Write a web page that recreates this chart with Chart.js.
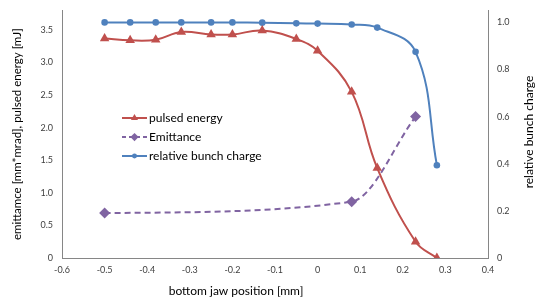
<!DOCTYPE html>
<html>
<head>
<meta charset="utf-8">
<script src="https://cdn.jsdelivr.net/npm/chart.js@4/dist/chart.umd.min.js"></script>
<style>
  body { margin: 0; background: #fff; }
  #wrap { width: 538px; height: 302px; }
</style>
</head>
<body>
<div id="wrap"><canvas id="myChart"></canvas></div>
<script>
// jaw positions [mm]
const jawPos = [-0.5, -0.44, -0.38, -0.32, -0.25, -0.2, -0.13, -0.05, 0, 0.08, 0.14, 0.23, 0.28];
const pulsedEnergy = [3.37, 3.34, 3.35, 3.47, 3.43, 3.43, 3.49, 3.36, 3.18, 2.55, 1.38, 0.25, 0];
const bunchCharge = [1.0, 1.0, 1.0, 1.0, 1.0, 1.0, 0.999, 0.996, 0.995, 0.991, 0.978, 0.875, 0.394];
const emitPos = [-0.5, 0.08, 0.23];
const emittance = [0.69, 0.865, 2.17];

const xTicks = [-0.6, -0.5, -0.4, -0.3, -0.2, -0.1, 0, 0.1, 0.2, 0.3, 0.4];
const leftTicks = [0, 0.5, 1, 1.5, 2, 2.5, 3, 3.5];
const rightTicks = [0, 0.2, 0.4, 0.6, 0.8, 1];

const pts = (xs, ys) => xs.map((x, i) => ({ x: x, y: ys[i] }));
const setTicks = list => scale => { scale.ticks = list.map(v => ({ value: v })); };

const RED = '#C0504D', PURPLE = '#8064A2', BLUE = '#4F81BD';
const AXIS = '#868686';
const FONT = 'Lato, "Open Sans", sans-serif';

// legend inside the plot + titles placed like the original
const extras = {
  id: 'extras',
  afterDraw(chart) {
    const ctx = chart.ctx;
    const rows = [118, 137, 156];
    ctx.save();
    chart.data.datasets.forEach((ds, i) => {
      const y = rows[i];
      ctx.strokeStyle = ds.borderColor;
      ctx.lineWidth = 2;
      ctx.setLineDash(ds.borderDash ? [4, 3] : []);
      ctx.beginPath();
      ctx.moveTo(122, y);
      ctx.lineTo(147, y);
      ctx.stroke();
      ctx.setLineDash([]);
      ctx.fillStyle = ds.backgroundColor;
      ctx.strokeStyle = ds.backgroundColor;
      Chart.helpers.drawPoint(ctx, {
        pointStyle: ds.pointStyle, radius: ds.pointRadius * 0.75, rotation: 0, borderWidth: 0
      }, 134.5, y);
      ctx.fillStyle = '#000';
      ctx.font = '12px ' + FONT;
      ctx.textBaseline = 'middle';
      ctx.textAlign = 'left';
      ctx.fillText(ds.label, 149, y);
    });
    ctx.font = '12px ' + FONT;
    ctx.fillStyle = '#000';
    ctx.textAlign = 'center';
    ctx.textBaseline = 'middle';
    ctx.fillText('bottom jaw position [mm]', 236, 291);
    ctx.translate(529, 132);
    ctx.rotate(-Math.PI / 2);
    ctx.fillText('relative bunch charge', 0, 0);
    ctx.restore();
  }
};

new Chart(document.getElementById('myChart'), {
  type: 'line',
  data: {
    datasets: [{
      label: 'pulsed energy',
      data: pts(jawPos, pulsedEnergy),
      yAxisID: 'y',
      borderColor: RED,
      backgroundColor: RED,
      pointBorderWidth: 0,
      borderWidth: 2,
      pointStyle: 'triangle',
      pointRadius: 5.5,
      tension: 0.4
    }, {
      label: 'Emittance',
      data: pts(emitPos, emittance),
      yAxisID: 'y',
      borderColor: PURPLE,
      backgroundColor: PURPLE,
      pointBorderWidth: 0,
      borderWidth: 2,
      borderDash: [6, 4],
      pointStyle: 'rectRot',
      pointRadius: 5.5,
      cubicInterpolationMode: 'monotone'
    }, {
      label: 'relative bunch charge',
      data: pts(jawPos, bunchCharge),
      yAxisID: 'y1',
      borderColor: BLUE,
      backgroundColor: BLUE,
      pointBorderWidth: 0,
      borderWidth: 2,
      pointStyle: 'circle',
      pointRadius: 3.3,
      tension: 0.4
    }]
  },
  options: {
    responsive: true,
    maintainAspectRatio: false,
    animation: false,
    layout: { padding: { top: 7, left: 0, right: 0, bottom: 0 } },
    plugins: { legend: { display: false }, tooltip: { enabled: false } },
    scales: {
      x: {
        type: 'linear',
        min: -0.6, max: 0.4,
        afterBuildTicks: setTicks(xTicks),
        afterFit: s => { s.height = 44; },
        grid: { display: false, drawTicks: true, tickLength: 4, tickColor: AXIS },
        border: { color: AXIS },
        ticks: { color: '#404040', font: { family: FONT, size: 9 }, padding: 3, maxRotation: 0 }
      },
      y: {
        position: 'left',
        min: 0, max: 3.8,
        afterBuildTicks: setTicks(leftTicks),
        afterFit: s => { s.width = 62; },
        grid: { display: false, drawTicks: true, tickLength: 4, tickColor: AXIS },
        border: { color: AXIS },
        ticks: { color: '#404040', font: { family: FONT, size: 9 }, padding: 5 },
        title: { display: true, text: 'emittamce [mm*mrad], pulsed energy [mJ]', color: '#000', font: { family: FONT, size: 11.5 }, padding: { top: 10 } }
      },
      y1: {
        position: 'right',
        min: 0, max: 1.051,
        afterBuildTicks: setTicks(rightTicks),
        afterFit: s => { s.width = 50; },
        grid: { display: false, drawTicks: true, tickLength: 4, tickColor: AXIS },
        border: { color: AXIS },
        ticks: { color: '#404040', font: { family: FONT, size: 9 }, padding: 5 }
      }
    }
  },
  plugins: [extras]
});
</script>
</body>
</html>
